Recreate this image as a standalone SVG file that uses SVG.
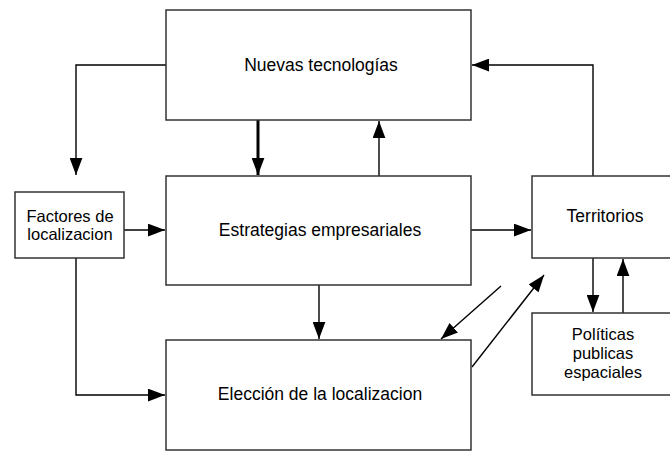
<svg xmlns="http://www.w3.org/2000/svg" width="670" height="451" viewBox="0 0 670 451">
<style>
.box{fill:#fff;stroke:#333;stroke-width:1.5}
.ln{fill:none;stroke:#000;stroke-width:1.4}
.thick{fill:none;stroke:#000;stroke-width:3}
text{font-family:"Liberation Sans",Arial,sans-serif;font-size:17.5px;fill:#000;text-anchor:middle}
text.sm{font-size:16.5px}
</style>
<defs>
<marker id="ah" viewBox="0 0 16 12" refX="16" refY="6" markerWidth="17" markerHeight="13" markerUnits="userSpaceOnUse" orient="auto">
<path d="M0,0 L16,6 L0,12 Z" fill="#000"/>
</marker>
</defs>
<rect width="670" height="451" fill="#fff"/>
<g id="connectors">
<path class="ln" d="M166,65 H76 V175" marker-end="url(#ah)"/>
<path class="thick" d="M258,120 V175" marker-end="url(#ah)"/>
<path class="ln" d="M379,176 V121" marker-end="url(#ah)"/>
<path class="ln" d="M593,176 V65 H472" marker-end="url(#ah)"/>
<path class="ln" d="M124,230 H165" marker-end="url(#ah)"/>
<path class="ln" d="M471,230 H531" marker-end="url(#ah)"/>
<path class="ln" d="M319,285 V339" marker-end="url(#ah)"/>
<path class="ln" d="M76,258 V395 H165" marker-end="url(#ah)"/>
<path class="ln" d="M501,286 L441,339" marker-end="url(#ah)"/>
<path class="ln" d="M472,367 L544,275" marker-end="url(#ah)"/>
<path class="ln" d="M593,258 V312" marker-end="url(#ah)"/>
<path class="ln" d="M623,313 V259" marker-end="url(#ah)"/>
</g>
<g id="nuevas">
<rect class="box" x="166" y="10" width="305" height="110"/>
<text x="321" y="71">Nuevas tecnologías</text>
</g>
<g id="factores">
<rect class="box" x="15" y="192" width="109" height="66"/>
<text class="sm" x="70" y="222">Factores de</text>
<text class="sm" x="70" y="240">localizacion</text>
</g>
<g id="estrategias">
<rect class="box" x="166" y="176" width="305" height="109"/>
<text x="320" y="236">Estrategias empresariales</text>
</g>
<g id="territorios">
<rect class="box" x="532" y="176" width="150" height="82"/>
<text x="605" y="222">Territorios</text>
</g>
<g id="eleccion">
<rect class="box" x="166" y="340" width="305" height="110"/>
<text x="320" y="400">Elección de la localizacion</text>
</g>
<g id="politicas">
<rect class="box" x="532" y="313" width="150" height="82"/>
<text class="sm" x="603" y="340">Políticas</text>
<text class="sm" x="603" y="359">publicas</text>
<text class="sm" x="603" y="378">espaciales</text>
</g>
</svg>
